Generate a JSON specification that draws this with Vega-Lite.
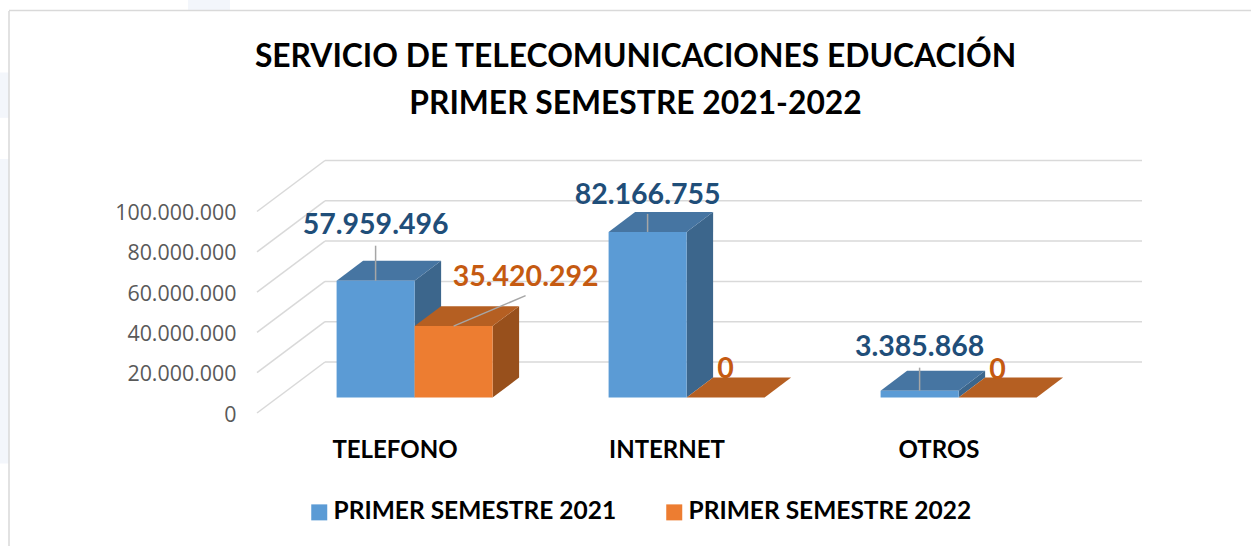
{
"$schema":"https://vega.github.io/schema/vega-lite/v6.json",
"width":1251,"height":546,"padding":0,"autosize":{"type":"none"},"background":"#ffffff",
"config":{"view":{"stroke":null},"font":"Lato"},
"title":{"text":["SERVICIO DE TELECOMUNICACIONES EDUCACIÓN","PRIMER SEMESTRE 2021-2022"],"fontSize":31.8,"font":"Lato","fontWeight":"bold","color":"#000000","lineHeight":47,"anchor":"middle","dx":10,"offset":-121},
"datasets":{
"barras":[
{"categoria":"TELEFONO","serie":"PRIMER SEMESTRE 2021","valor":57959496},
{"categoria":"TELEFONO","serie":"PRIMER SEMESTRE 2022","valor":35420292},
{"categoria":"INTERNET","serie":"PRIMER SEMESTRE 2021","valor":82166755},
{"categoria":"INTERNET","serie":"PRIMER SEMESTRE 2022","valor":0},
{"categoria":"OTROS","serie":"PRIMER SEMESTRE 2021","valor":3385868},
{"categoria":"OTROS","serie":"PRIMER SEMESTRE 2022","valor":0}],
"marcas":[{"v":0},{"v":20000000},{"v":40000000},{"v":60000000},{"v":80000000},{"v":100000000}]
},
"data":{"name":"barras"},
"transform":[
{"calculate":"indexof(['TELEFONO','INTERNET','OTROS'],datum.categoria)","as":"ci"},
{"calculate":"datum.serie=='PRIMER SEMESTRE 2021'?0:1","as":"si"},
{"calculate":"336.6+272*datum.ci+78*datum.si","as":"x0"},
{"calculate":"datum.x0+78","as":"x1"},
{"calculate":"7700000","as":"base"},
{"calculate":"datum.base+datum.valor","as":"tope"}
],
"resolve":{"axis":{"y":"independent"}},
"layer":[
{"data":{"values":[{"d":1}]},"mark":{"type":"rect","fill":"#f3f6fb"},"encoding":{"x":{"datum":188,"type":"quantitative","scale":{"domain":[0,1251],"nice":false,"zero":false},"axis":null},"x2":{"datum":230},"y":{"datum":204962779,"type":"quantitative","scale":{"domain":[-66004963,204962779],"nice":false,"zero":false},"axis":null},"y2":{"datum":200000000}}},
{"data":{"values":[{"d":1}]},"mark":{"type":"rect","fill":"#f3f6fb"},"encoding":{"x":{"datum":0,"type":"quantitative","axis":null},"x2":{"datum":9},"y":{"datum":169000000,"type":"quantitative","axis":null},"y2":{"datum":146500000}}},
{"data":{"values":[{"d":1}]},"mark":{"type":"rect","fill":"#f3f6fb"},"encoding":{"x":{"datum":0,"type":"quantitative","axis":null},"x2":{"datum":9},"y":{"datum":126000000,"type":"quantitative","axis":null},"y2":{"datum":-25000000}}},
{"data":{"values":[{"d":1}]},"mark":{"type":"rule","color":"#d9d9d9","strokeWidth":1.5},"encoding":{"x":{"datum":9,"type":"quantitative","axis":null},"y":{"datum":199500000,"type":"quantitative","axis":null},"y2":{"datum":-66004963}}},
{"data":{"values":[{"d":1}]},"mark":{"type":"rule","color":"#d9d9d9","strokeWidth":1.5},"encoding":{"x":{"datum":9,"type":"quantitative","axis":null},"x2":{"datum":1251},"y":{"datum":199800000,"type":"quantitative","axis":null}}},
{"data":{"name":"marcas"},"transform":[{"calculate":"datum.v+25300000","as":"v2"}],"mark":{"type":"rule","color":"#d9d9d9","strokeWidth":1.5},"encoding":{"x":{"datum":257,"type":"quantitative","axis":null},"x2":{"datum":325},"y":{"field":"v","type":"quantitative","axis":null},"y2":{"field":"v2"}}},
{"data":{"name":"marcas"},"transform":[{"calculate":"datum.v+25300000","as":"v2"}],"mark":{"type":"rule","color":"#d9d9d9","strokeWidth":1.5},"encoding":{"x":{"datum":325,"type":"quantitative","axis":null},"x2":{"datum":1142},"y":{"field":"v2","type":"quantitative","axis":null}}},
{"transform":[{"calculate":"[0,1]","as":"c"},{"flatten":["c"]},{"calculate":"datum.x1+datum.c*26.5","as":"px"},{"calculate":"datum.tope+datum.c*9900000","as":"a"},{"calculate":"datum.base+datum.c*9900000","as":"b"}],
 "mark":{"type":"area","line":false},
 "encoding":{"x":{"field":"px","type":"quantitative","axis":null},"y":{"field":"a","type":"quantitative","axis":null},"y2":{"field":"b"},"detail":{"field":"x0"},"fill":{"condition":{"test":"datum.si==0","value":"#3c668c"},"value":"#98501c"}}},
{"transform":[{"calculate":"[0,1,2,3]","as":"k"},{"flatten":["k"]},{"calculate":"datum.x0+[0,26.5,78,104.5][datum.k]","as":"px"},{"calculate":"datum.tope+[0,9900000,9900000,9900000][datum.k]","as":"a"},{"calculate":"datum.tope+[0,0,0,9900000][datum.k]","as":"b"}],
 "mark":{"type":"area","line":false},
 "encoding":{"x":{"field":"px","type":"quantitative","axis":null},"y":{"field":"a","type":"quantitative","axis":null},"y2":{"field":"b"},"detail":{"field":"x0"},"fill":{"condition":{"test":"datum.si==0","value":"#4675a2"},"value":"#b55f22"}}},
{"mark":{"type":"rect"},
 "encoding":{"x":{"field":"x0","type":"quantitative","axis":null},"x2":{"field":"x1"},
 "y":{"field":"tope","type":"quantitative","axis":{"values":[0,20000000,40000000,60000000,80000000,100000000],"labelExpr":"replace(format(datum.value,','),/,/g,'.')","title":null,"domain":false,"ticks":false,"grid":false,"offset":-236,"labelPadding":0,"labelOffset":2,"labelFontSize":21.4,"labelColor":"#595959","labelFont":"Open Sans"}},
 "y2":{"field":"base"},
 "color":{"field":"serie","type":"nominal","scale":{"domain":["PRIMER SEMESTRE 2021","PRIMER SEMESTRE 2022"],"range":["#5b9bd5","#ed7d31"]},
 "legend":{"title":null,"orient":"none","legendX":307,"legendY":500,"direction":"horizontal","columns":2,"symbolType":"square","symbolSize":256,"symbolStrokeWidth":0,"labelFontSize":24.5,"labelFont":"Lato","labelFontWeight":"bold","labelColor":"#000000","labelLimit":400,"columnPadding":45,"labelOffset":2}}}},
{"transform":[{"filter":"datum.valor>0"},{"calculate":"(datum.x0+datum.x1)/2","as":"xc"},{"calculate":"datum.xc+[[0,0,0],[72,0,0]][datum.si][datum.ci]","as":"xf"},{"calculate":"datum.tope+[[35,18,23],[30.5,0,0]][datum.si][datum.ci]*1000000/2.015","as":"yf"}],
 "mark":{"type":"rule","color":"#a6a6a6","strokeWidth":1.5},
 "encoding":{"x":{"field":"xc","type":"quantitative","axis":null},"x2":{"field":"xf"},"y":{"field":"tope","type":"quantitative","axis":null},"y2":{"field":"yf"}}},
{"transform":[{"calculate":"replace(format(datum.valor,','),/,/g,'.')","as":"etiqueta"},{"calculate":"(datum.x0+datum.x1)/2+[[0,0,0],[72,0,0]][datum.si][datum.ci]","as":"xt"},{"calculate":"datum.tope+[[55.7,37.3,44],[49.5,28,27.5]][datum.si][datum.ci]*1000000/2.015","as":"yt"}],
 "mark":{"type":"text","font":"Lato","fontWeight":"bold","fontSize":28.5,"align":"center","baseline":"middle"},
 "encoding":{"x":{"field":"xt","type":"quantitative","axis":null},"y":{"field":"yt","type":"quantitative","axis":null},"text":{"field":"etiqueta"},"color":{"condition":{"test":"datum.si==0","value":"#1f4e79"},"value":"#c55a11"}}},
{"transform":[{"filter":"datum.si==0"},{"calculate":"395+272*datum.ci","as":"xc"},{"calculate":"-18800000","as":"yc"}],
 "mark":{"type":"text","font":"Lato","fontWeight":"bold","fontSize":24,"align":"center","baseline":"middle","color":"#000000"},
 "encoding":{"x":{"field":"xc","type":"quantitative","axis":null},"y":{"field":"yc","type":"quantitative","axis":null},"text":{"field":"categoria"}}}
]
}
